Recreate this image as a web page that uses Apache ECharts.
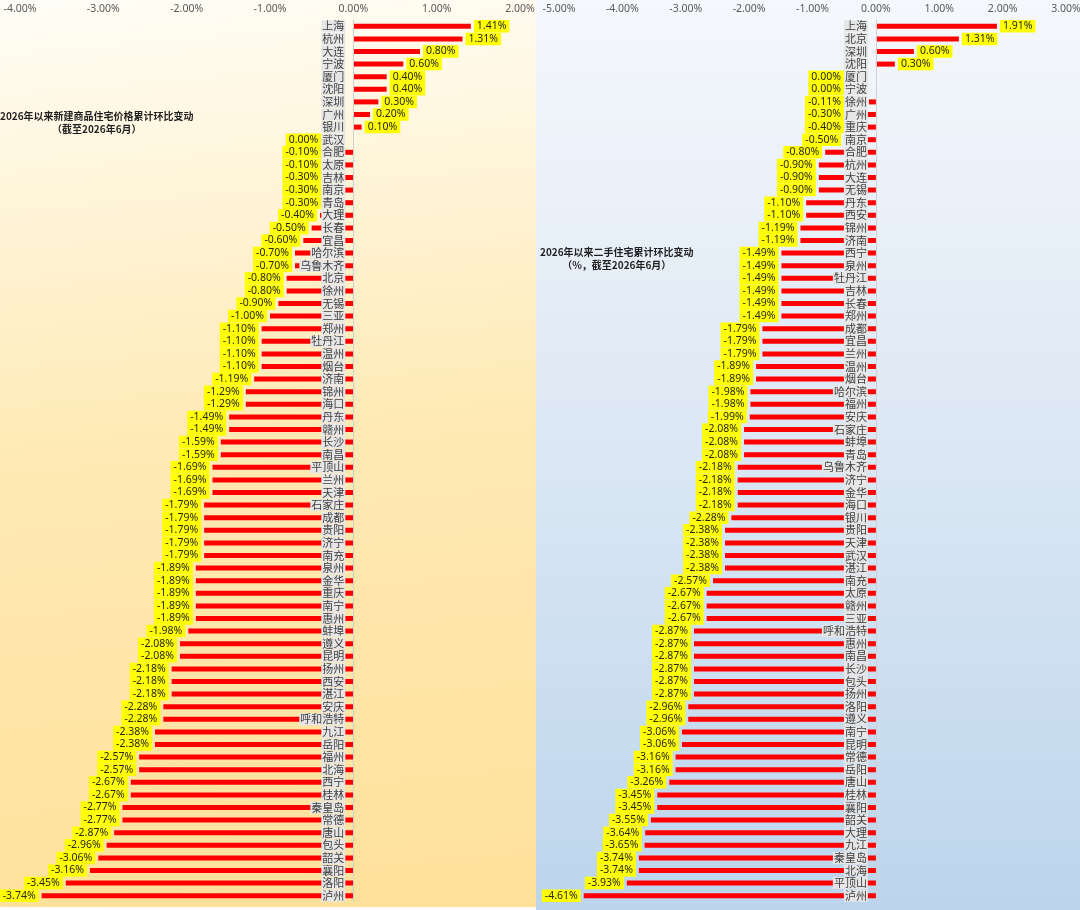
<!DOCTYPE html>
<html>
<head>
<meta charset="utf-8">
<script src="https://cdn.jsdelivr.net/npm/echarts@6/dist/echarts.min.js"></script>
<style>
  html, body { margin: 0; padding: 0; background: #fff; }
  #chart { width: 1080px; height: 910px; }
</style>
</head>
<body>
<div id="chart"></div>
<script>
// 新建商品住宅
var newCities = ['上海','杭州','大连','宁波','厦门','沈阳','深圳','广州','银川','武汉',
  '合肥','太原','吉林','南京','青岛','大理','长春','宜昌','哈尔滨','乌鲁木齐',
  '北京','徐州','无锡','三亚','郑州','牡丹江','温州','烟台','济南','锦州',
  '海口','丹东','赣州','长沙','南昌','平顶山','兰州','天津','石家庄','成都',
  '贵阳','济宁','南充','泉州','金华','重庆','南宁','惠州','蚌埠','遵义',
  '昆明','扬州','西安','湛江','安庆','呼和浩特','九江','岳阳','福州','北海',
  '西宁','桂林','秦皇岛','常德','唐山','包头','韶关','襄阳','洛阳','泸州'];
var newValues = [1.41,1.31,0.80,0.60,0.40,0.40,0.30,0.20,0.10,0.00,
  -0.10,-0.10,-0.30,-0.30,-0.30,-0.40,-0.50,-0.60,-0.70,-0.70,
  -0.80,-0.80,-0.90,-1.00,-1.10,-1.10,-1.10,-1.10,-1.19,-1.29,
  -1.29,-1.49,-1.49,-1.59,-1.59,-1.69,-1.69,-1.69,-1.79,-1.79,
  -1.79,-1.79,-1.79,-1.89,-1.89,-1.89,-1.89,-1.89,-1.98,-2.08,
  -2.08,-2.18,-2.18,-2.18,-2.28,-2.28,-2.38,-2.38,-2.57,-2.57,
  -2.67,-2.67,-2.77,-2.77,-2.87,-2.96,-3.06,-3.16,-3.45,-3.74];

// 二手住宅
var usedCities = ['上海','北京','深圳','沈阳','厦门','宁波','徐州','广州','重庆','南京',
  '合肥','杭州','大连','无锡','丹东','西安','锦州','济南','西宁','泉州',
  '牡丹江','吉林','长春','郑州','成都','宜昌','兰州','温州','烟台','哈尔滨',
  '福州','安庆','石家庄','蚌埠','青岛','乌鲁木齐','济宁','金华','海口','银川',
  '贵阳','天津','武汉','湛江','南充','太原','赣州','三亚','呼和浩特','惠州',
  '南昌','长沙','包头','扬州','洛阳','遵义','南宁','昆明','常德','岳阳',
  '唐山','桂林','襄阳','韶关','大理','九江','秦皇岛','北海','平顶山','泸州'];
var usedValues = [1.91,1.31,0.60,0.30,0.00,0.00,-0.11,-0.30,-0.40,-0.50,
  -0.80,-0.90,-0.90,-0.90,-1.10,-1.10,-1.19,-1.19,-1.49,-1.49,
  -1.49,-1.49,-1.49,-1.49,-1.79,-1.79,-1.79,-1.89,-1.89,-1.98,
  -1.98,-1.99,-2.08,-2.08,-2.08,-2.18,-2.18,-2.18,-2.18,-2.28,
  -2.38,-2.38,-2.38,-2.38,-2.57,-2.67,-2.67,-2.67,-2.87,-2.87,
  -2.87,-2.87,-2.87,-2.87,-2.96,-2.96,-3.06,-3.06,-3.16,-3.16,
  -3.26,-3.45,-3.45,-3.55,-3.64,-3.65,-3.74,-3.74,-3.93,-4.61];

var newTicks = { min: -4, max: 2 };
var usedTicks = { min: -5, max: 3 };

var newGrid = { left: 20, width: 500, top: 20, height: 882 };
var usedGrid = { left: 559, width: 507, top: 20, height: 882 };

var fontFam = '"Noto Sans", "Noto Sans CJK SC", sans-serif';
var cityFontSize = 11;
var labelMargin = 8;

function pct(v) { return v.toFixed(2) + '%'; }

function xAxisDef(idx, ticks) {
    return {
        type: 'value',
        gridIndex: idx,
        position: 'top',
        min: ticks.min,
        max: ticks.max,
        interval: 1,
        axisLine: { show: false },
        axisTick: { show: false },
        splitLine: { show: false },
        axisLabel: {
            margin: 6,
            color: '#595959',
            fontSize: 10.5,
            fontFamily: fontFam,
            formatter: function (v) { return pct(v); }
        }
    };
}

// 类目轴移到 0 的位置（城市名贴着零线）
function yAxisDef(idx, cities, ticks, grid) {
    var zeroShift = (0 - ticks.min) / (ticks.max - ticks.min) * grid.width;
    return {
        type: 'category',
        gridIndex: idx,
        inverse: true,
        data: cities,
        z: 5,
        offset: -zeroShift,
        axisLine: { show: true, onZero: false, lineStyle: { color: '#d0d0d0', width: 1 } },
        axisTick: { show: false },
        axisLabel: {
            interval: 0,
            margin: labelMargin,
            color: '#404040',
            fontSize: cityFontSize,
            fontFamily: '"Noto Sans CJK SC", sans-serif',
            backgroundColor: '#e6e6e6',
            padding: [0, 1, 0, 1],
            lineHeight: 12
        }
    };
}

// 负值标签放在柱端左侧，但不压住城市名
function makeLabelLayout(cities, values) {
    return function (params) {
        var r = params.rect;
        var lr = params.labelRect;
        var v = values[params.dataIndex];
        var cy = lr.y + lr.height / 2;
        if (v > 0) {
            return { x: r.x + r.width + 3, y: cy, align: 'left', verticalAlign: 'middle' };
        }
        var zero = r.x + r.width;
        var cityW = cities[params.dataIndex].length * cityFontSize + 2;
        var right = Math.min(r.x - 3, zero - labelMargin - cityW);
        return { x: right, y: cy, align: 'right', verticalAlign: 'middle' };
    };
}

function seriesDef(idx, cities, values) {
    return {
        type: 'bar',
        xAxisIndex: idx,
        yAxisIndex: idx,
        barWidth: 5,
        itemStyle: { color: '#ff0000' },
        data: values,
        label: {
            show: true,
            position: 'right',
            distance: 3,
            formatter: function (p) { return pct(p.value); },
            backgroundColor: '#ffff00',
            color: '#262626',
            fontSize: 10.5,
            fontFamily: fontFam,
            padding: [1, 3, 1, 3]
        },
        labelLayout: makeLabelLayout(cities, values)
    };
}

var chart = echarts.init(document.getElementById('chart'));

var option = {
    animation: false,
    graphic: [
        {
            type: 'rect', z: -10, silent: true,
            shape: { x: 0, y: 0, width: 536, height: 907 },
            style: {
                fill: new echarts.graphic.LinearGradient(0, 0, 0.15, 1, [
                    { offset: 0, color: '#fffdf6' },
                    { offset: 0.5, color: '#ffeab5' },
                    { offset: 1, color: '#ffe19c' }
                ])
            }
        },
        {
            type: 'rect', z: -10, silent: true,
            shape: { x: 536, y: 0, width: 544, height: 910 },
            style: {
                fill: new echarts.graphic.LinearGradient(0, 0, 0, 1, [
                    { offset: 0, color: '#f5f8fc' },
                    { offset: 0.5, color: '#dbe7f4' },
                    { offset: 1, color: '#bcd5ec' }
                ])
            }
        },
        {
            type: 'text', z: 10, left: 0, top: 110,
            style: {
                text: '2026年以来新建商品住宅价格累计环比变动\n（截至2026年6月）',
                textAlign: 'center',
                x: 100, y: 0,
                font: 'bold 10px "Noto Sans CJK SC", sans-serif',
                lineHeight: 13,
                fill: '#1f1f1f'
            }
        },
        {
            type: 'text', z: 10, left: 540, top: 246,
            style: {
                text: '2026年以来二手住宅累计环比变动\n（%，截至2026年6月）',
                textAlign: 'center',
                x: 81, y: 0,
                font: 'bold 10px "Noto Sans CJK SC", sans-serif',
                lineHeight: 13,
                fill: '#1f1f1f'
            }
        }
    ],
    grid: [
        Object.assign({ outerBoundsMode: 'none', containLabel: false }, newGrid),
        Object.assign({ outerBoundsMode: 'none', containLabel: false }, usedGrid)
    ],
    xAxis: [xAxisDef(0, newTicks), xAxisDef(1, usedTicks)],
    yAxis: [yAxisDef(0, newCities, newTicks, newGrid), yAxisDef(1, usedCities, usedTicks, usedGrid)],
    series: [
        seriesDef(0, newCities, newValues),
        seriesDef(1, usedCities, usedValues)
    ]
};

chart.setOption(option);
</script>
</body>
</html>
